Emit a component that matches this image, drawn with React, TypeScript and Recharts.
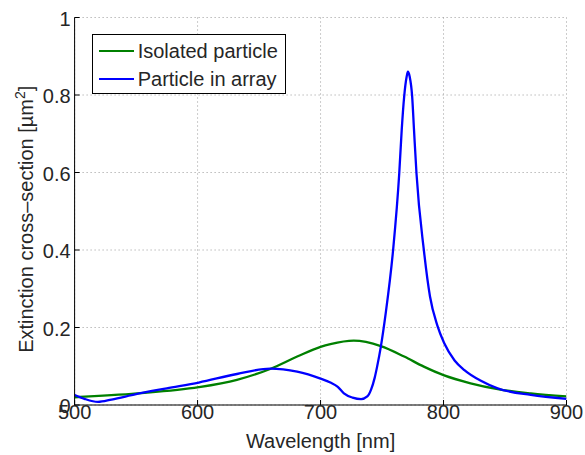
import React from "react";
import {
  LineChart,
  Line,
  XAxis,
  YAxis,
  CartesianGrid,
  Legend,
} from "recharts";

const FONT = '"Liberation Sans", Arial, Helvetica, sans-serif';
const TEXT = "#262626";

const xTicks = [500, 600, 700, 800, 900];
const yTicks = [0, 0.2, 0.4, 0.6, 0.8, 1];
const yTickLabels = ["0", "0.2", "0.4", "0.6", "0.8", "1"];

const isolatedName = "Isolated particle";
const isolatedWl = [500, 551, 601, 632, 659, 681, 700, 708, 727, 749, 768, 784, 800, 822, 844, 871, 900];
const isolatedVal = [0.02, 0.03, 0.046, 0.065, 0.093, 0.125, 0.15, 0.157, 0.166, 0.152, 0.125, 0.099, 0.077, 0.056, 0.041, 0.03, 0.022];

const arrayName = "Particle in array";
const arrayWl = [
  500, 508, 519, 530, 550, 575, 601, 632, 659, 681, 700, 708, 714, 719, 726, 733, 738, 741, 744, 746,
  749, 753, 759, 764, 766, 768, 770, 771, 772.5, 774.5, 776, 778, 784, 789, 795, 800.5, 809, 817, 830,
  844, 871, 900,
];
const arrayVal = [
  0.026, 0.016, 0.008, 0.014, 0.028, 0.043, 0.058, 0.08, 0.094, 0.086, 0.068, 0.058, 0.047, 0.03, 0.019,
  0.015, 0.022, 0.039, 0.07, 0.099, 0.15, 0.237, 0.4, 0.598, 0.71, 0.796, 0.847, 0.86, 0.847, 0.796,
  0.71, 0.598, 0.4, 0.28, 0.205, 0.16, 0.115, 0.09, 0.063, 0.043, 0.026, 0.016,
];

const isolatedData = isolatedWl.map((wl, i) => ({ wl, v: isolatedVal[i] }));
const arrayData = arrayWl.map((wl, i) => ({ wl, v: arrayVal[i] }));

const BottomTick = (props: any) => {
  const { x, y, payload } = props;
  return (
    <g>
      <line x1={x} x2={x} y1={y} y2={y - 5} stroke="#000" strokeWidth={1} />
      <text x={x} y={y + 14} textAnchor="middle" fontSize={20} fontFamily={FONT} fill={TEXT}>
        {payload.value}
      </text>
    </g>
  );
};

const LeftTick = (props: any) => {
  const { x, y, payload, index } = props;
  return (
    <g>
      <line x1={x} x2={x + 5} y1={y} y2={y} stroke="#000" strokeWidth={1} />
      <text x={x - 4} y={y + 8} textAnchor="end" fontSize={20} fontFamily={FONT} fill={TEXT}>
        {yTickLabels[yTicks.indexOf(payload.value)] ?? yTickLabels[index]}
      </text>
    </g>
  );
};

const TopTick = (props: any) => {
  const { x, y } = props;
  return <line x1={x} x2={x} y1={y} y2={y + 5} stroke="#000" strokeWidth={1} />;
};

const RightTick = (props: any) => {
  const { x, y } = props;
  return <line x1={x} x2={x - 5} y1={y} y2={y} stroke="#000" strokeWidth={1} />;
};

const YLabel = (props: any) => {
  const vb = props.viewBox || { x: 0, y: 17.5, width: 74.6, height: 387.5 };
  const cx = 33;
  const cy = vb.y + vb.height / 2 + 8;
  return (
    <text
      x={cx}
      y={cy}
      transform={`rotate(-90 ${cx} ${cy})`}
      textAnchor="middle"
      fontSize={20}
      fontFamily={FONT}
      fill={TEXT}
    >
      Extinction cross–section [µm
      <tspan dy={-8} fontSize={14}>2</tspan>
      <tspan dy={8}>]</tspan>
    </text>
  );
};

const XLabel = (props: any) => {
  const vb = props.viewBox || { x: 74.6, y: 405, width: 492, height: 50 };
  return (
    <text
      x={vb.x + vb.width / 2}
      y={448}
      textAnchor="middle"
      fontSize={20}
      fontFamily={FONT}
      fill={TEXT}
    >
      Wavelength [nm]
    </text>
  );
};

const LegendBox = (props: any) => {
  const items = props.payload || [];
  return (
    <div
      style={{
        border: "1px solid #000",
        background: "#fff",
        width: 194,
        height: 60,
        boxSizing: "border-box",
        paddingTop: 2,
        fontFamily: FONT,
      }}
    >
      {items.map((it: any, i: number) => (
        <div key={i} style={{ display: "flex", alignItems: "center", height: 27.5 }}>
          <div style={{ width: 35, height: 2, background: it.color, marginLeft: 6 }} />
          <span style={{ marginLeft: 4, fontSize: 20, color: TEXT, lineHeight: "20px" }}>{it.value}</span>
        </div>
      ))}
    </div>
  );
};

export default function App() {
  return (
    <div style={{ position: "absolute", left: 0, top: 0, width: 585, height: 455, background: "#fff" }}>
      <LineChart
        width={585}
        height={455}
        margin={{ top: 17.5, right: 18.5, bottom: 0, left: 0 }}
      >
        <CartesianGrid stroke="#999" strokeDasharray="1 3" />
        <XAxis
          type="number"
          dataKey="wl"
          domain={[500, 900]}
          ticks={xTicks}
          allowDataOverflow
          height={50}
          tickSize={0}
          tickMargin={0}
          tickLine={false}
          tick={<BottomTick />}
          axisLine={{ stroke: "#000", strokeWidth: 1 }}
          interval={0}
          label={<XLabel />}
        />
        <XAxis
          xAxisId="top"
          orientation="top"
          type="number"
          dataKey="wl"
          domain={[500, 900]}
          ticks={xTicks}
          allowDataOverflow
          height={0}
          tickSize={0}
          tickMargin={0}
          tickLine={false}
          tick={<TopTick />}
          axisLine={{ stroke: "#000", strokeWidth: 1 }}
          interval={0}
        />
        <YAxis
          type="number"
          domain={[0, 1]}
          ticks={yTicks}
          allowDataOverflow
          width={74.6}
          tickSize={0}
          tickMargin={0}
          tickLine={false}
          tick={<LeftTick />}
          axisLine={{ stroke: "#000", strokeWidth: 1 }}
          interval={0}
          label={<YLabel />}
        />
        <YAxis
          yAxisId="right"
          orientation="right"
          type="number"
          domain={[0, 1]}
          ticks={yTicks}
          allowDataOverflow
          width={0}
          tickSize={0}
          tickMargin={0}
          tickLine={false}
          tick={<RightTick />}
          axisLine={{ stroke: "#000", strokeWidth: 1 }}
          interval={0}
        />
        <Legend
          layout="vertical"
          align="center"
          verticalAlign="middle"
          content={<LegendBox />}
          wrapperStyle={{ left: 91.7, top: 34.3, width: "auto", height: "auto" }}
        />
        <Line
          data={isolatedData}
          dataKey="v"
          name={isolatedName}
          type="monotone"
          stroke="#008000"
          strokeWidth={2.3}
          dot={false}
          activeDot={false}
          isAnimationActive={false}
        />
        <Line
          data={arrayData}
          dataKey="v"
          name={arrayName}
          type="monotone"
          stroke="#0000ff"
          strokeWidth={2.3}
          dot={false}
          activeDot={false}
          isAnimationActive={false}
        />
      </LineChart>
    </div>
  );
}
